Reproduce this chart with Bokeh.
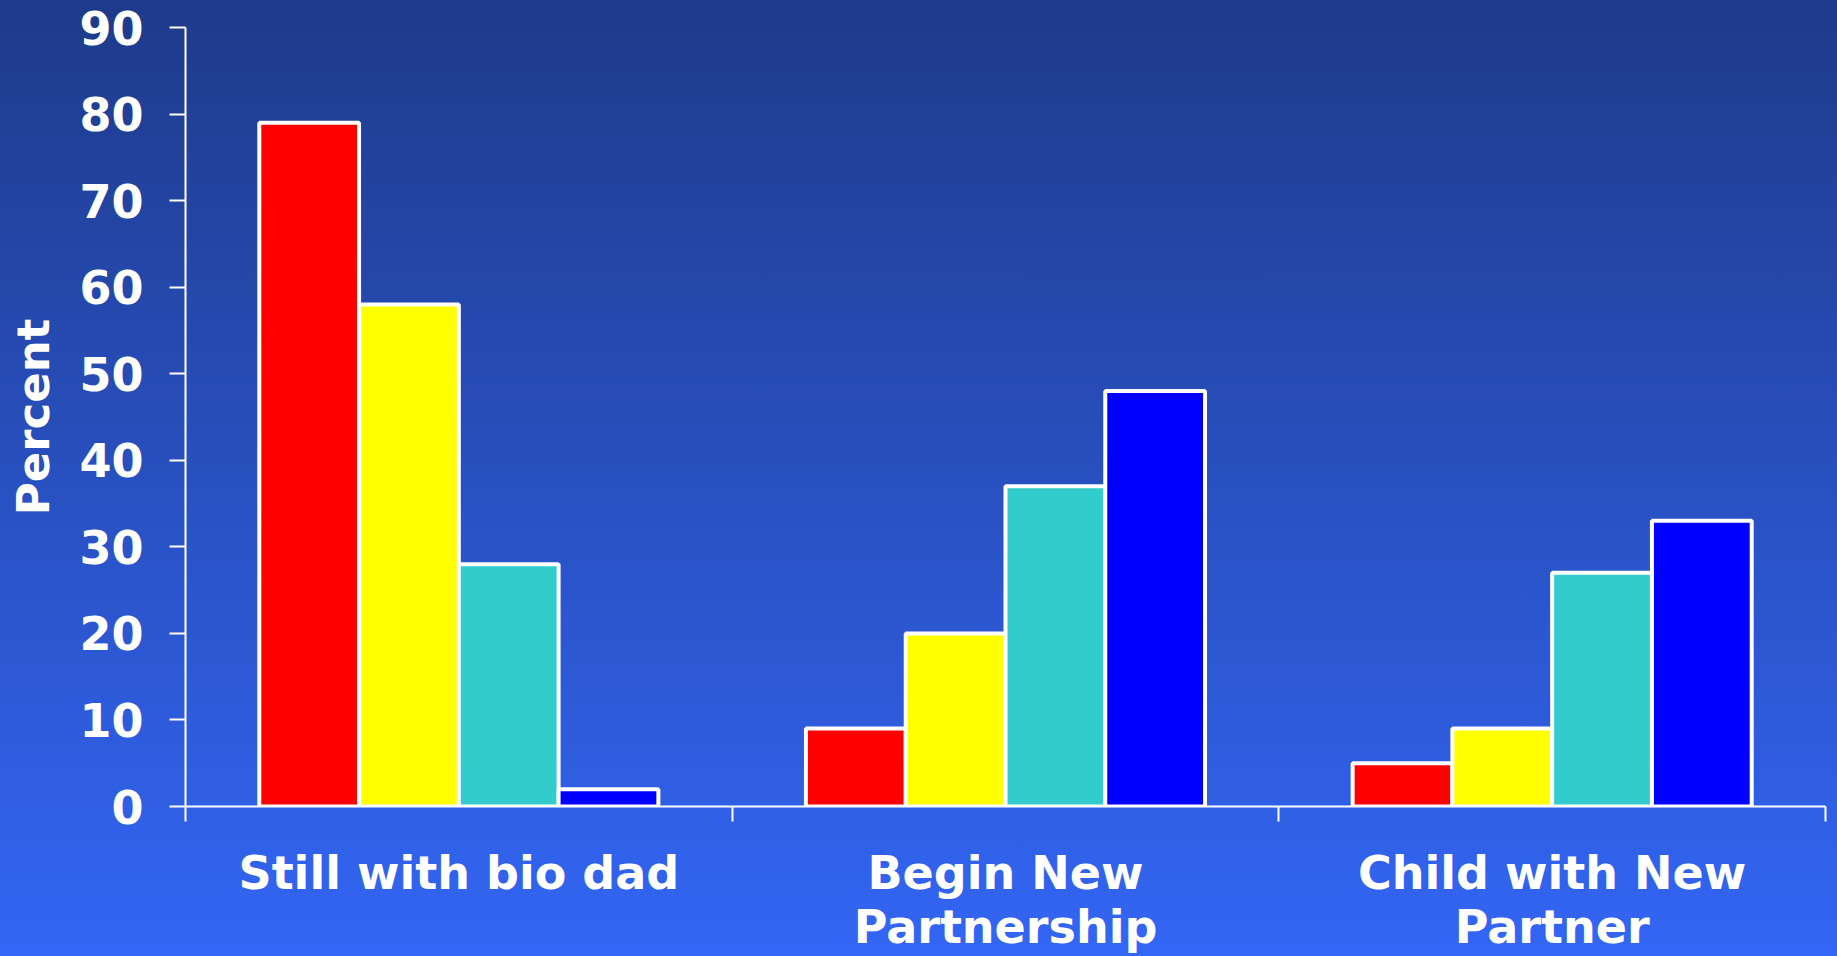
from bokeh.plotting import figure
from bokeh.models import ColumnDataSource, Range1d, FixedTicker
from bokeh.embed import file_html
from bokeh.resources import INLINE

# Outcome categories along the x axis
categories = ["Still with bio dad", "Begin New\nPartnership", "Child with New\nPartner"]

# Percent values for each of the four series, one value per category
series_red = [79, 9, 5]
series_yellow = [58, 20, 9]
series_teal = [28, 37, 27]
series_blue = [2, 48, 33]

series_values = [series_red, series_yellow, series_teal, series_blue]
series_colors = ["#ff0000", "#ffff00", "#33cccc", "#0000ff"]

y_ticks = [0, 10, 20, 30, 40, 50, 60, 70, 80, 90]

FONT = "DejaVu Sans"
BAR_W = 0.1825

xs, tops, colors = [], [], []
n_series = len(series_values)
for j, vals in enumerate(series_values):
    for i, v in enumerate(vals):
        xs.append(i + 0.5 + (j - (n_series - 1) / 2) * BAR_W)
        tops.append(v)
        colors.append(series_colors[j])

source = ColumnDataSource(data=dict(x=xs, top=tops, color=colors))

p = figure(
    width=1837,
    height=956,
    x_range=Range1d(0, len(categories)),
    y_range=Range1d(0, 90),
    output_backend="svg",
    toolbar_location=None,
    min_border_left=185,
    min_border_right=12,
    min_border_top=27,
    min_border_bottom=149,
)

p.styles = {"background": "linear-gradient(to bottom, #1e3a8a 0%, #3366f5 100%)"}
p.background_fill_alpha = 0
p.border_fill_alpha = 0
p.outline_line_color = None
p.xgrid.visible = False
p.ygrid.visible = False

p.vbar(x="x", top="top", bottom=0, width=BAR_W, source=source,
       fill_color="color", line_color="white", line_width=4)

# y axis
ya = p.yaxis[0]
ya.ticker = FixedTicker(ticks=y_ticks)
ya.axis_line_color = "white"
ya.axis_line_width = 2
ya.major_tick_line_color = "white"
ya.major_tick_line_width = 2
ya.major_tick_out = 16
ya.major_tick_in = 0
ya.minor_tick_line_color = None
ya.major_label_text_color = "white"
ya.major_label_text_font = FONT
ya.major_label_text_font_style = "bold"
ya.major_label_text_font_size = "46px"
ya.major_label_standoff = 26
ya.axis_label = "Percent"
ya.axis_label_text_color = "white"
ya.axis_label_text_font = FONT
ya.axis_label_text_font_style = "bold"
ya.axis_label_text_font_size = "45px"
ya.axis_label_standoff = 16

# x axis: labels at category centres, tick marks at category boundaries
xa = p.xaxis[0]
xa.ticker = FixedTicker(ticks=[i + 0.5 for i in range(len(categories))],
                        minor_ticks=list(range(len(categories) + 1)))
xa.major_label_overrides = {i + 0.5: c for i, c in enumerate(categories)}
xa.axis_line_color = "white"
xa.axis_line_width = 2
xa.major_tick_line_color = None
xa.major_tick_out = 0
xa.major_tick_in = 0
xa.minor_tick_line_color = "white"
xa.minor_tick_line_width = 2
xa.minor_tick_out = 15
xa.minor_tick_in = 0
xa.major_label_text_color = "white"
xa.major_label_text_font = FONT
xa.major_label_text_font_style = "bold"
xa.major_label_text_font_size = "46px"
xa.major_label_text_line_height = 1.0
xa.major_label_standoff = 24

open("out.html", "w").write(file_html(p, INLINE))
